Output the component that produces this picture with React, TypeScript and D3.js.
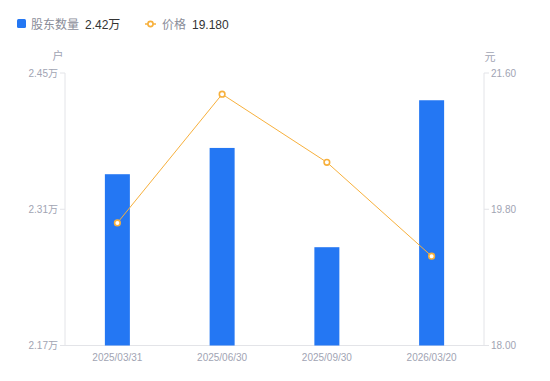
import React from "react";
import * as d3 from "d3";

const categories = ["2025/03/31", "2025/06/30", "2025/09/30", "2026/03/20"];
const holders = [2.346, 2.373, 2.271, 2.422];
const prices = [19.62, 21.32, 20.42, 19.18];
const leftTicks = [2.17, 2.31, 2.45];
const rightTicks = [18.0, 19.8, 21.6];

const W = 550, H = 381;
const x0 = 65, x1 = 484, yTop = 73, yBot = 345.5;
const font = "'Liberation Sans', 'Noto Sans CJK SC', sans-serif";

export default function App() {
  const x = d3.scaleBand<string>().domain(categories).range([x0, x1]);
  const yL = d3.scaleLinear().domain([2.17, 2.45]).range([yBot, yTop]);
  const yR = d3.scaleLinear().domain([18, 21.6]).range([yBot, yTop]);
  const bw = 25;
  const line = d3.line<number>()
    .x((_, i) => x(categories[i])! + x.bandwidth() / 2)
    .y((d) => yR(d));
  const axisColor = "#e3e4e8";
  const tickText = "#a1a4b3";
  const orange = "#f7b03c";
  return (
    <svg width={W} height={H} style={{ position: "absolute", left: 0, top: 0, fontFamily: font }}>
      {/* legend */}
      <rect x={17} y={19} width={9} height={9} rx={1.5} fill="#2477f3" />
      <text x={31} y={28.5} fontSize={12} fill="#8a8d99">股东数量</text>
      <text x={85} y={28.5} fontSize={12} fill="#333">2.42万</text>
      <line x1={145} x2={156} y1={24} y2={24} stroke={orange} strokeWidth={1.5} />
      <circle cx={150.5} cy={24} r={2.6} fill="#fff" stroke={orange} strokeWidth={1.6} />
      <text x={162} y={28.5} fontSize={12} fill="#8a8d99">价格</text>
      <text x={192} y={28.5} fontSize={12} fill="#333">19.180</text>
      {/* unit labels */}
      <text x={58} y={60} fontSize={11} fill={tickText} textAnchor="middle">户</text>
      <text x={490} y={61} fontSize={11} fill={tickText} textAnchor="middle">元</text>
      {/* axes */}
      <line x1={x0} x2={x0} y1={yTop} y2={yBot} stroke={axisColor} />
      <line x1={x1} x2={x1} y1={yTop} y2={yBot} stroke={axisColor} />
      <line x1={x0} x2={x1} y1={yBot} y2={yBot} stroke={axisColor} />
      {leftTicks.map((t) => (
        <g key={"l" + t}>
          <line x1={x0 - 5} x2={x0} y1={yL(t)} y2={yL(t)} stroke={axisColor} />
          <text x={x0 - 7} y={yL(t) + 3.5} fontSize={10} fill={tickText} textAnchor="end">
            {t.toFixed(2)}万
          </text>
        </g>
      ))}
      {rightTicks.map((t) => (
        <g key={"r" + t}>
          <line x1={x1} x2={x1 + 5} y1={yR(t)} y2={yR(t)} stroke={axisColor} />
          <text x={x1 + 7} y={yR(t) + 3.5} fontSize={10} fill={tickText}>
            {t.toFixed(2)}
          </text>
        </g>
      ))}
      {categories.map((c) => (
        <text key={c} x={x(c)! + x.bandwidth() / 2} y={361} fontSize={10} fill={tickText} textAnchor="middle">
          {c}
        </text>
      ))}
      {/* bars */}
      {holders.map((v, i) => (
        <rect
          key={i}
          x={x(categories[i])! + x.bandwidth() / 2 - bw / 2}
          y={yL(v)}
          width={bw}
          height={yBot - yL(v)}
          fill="#2477f3"
        />
      ))}
      {/* line */}
      <path d={line(prices)!} fill="none" stroke={orange} strokeWidth={1} />
      {prices.map((v, i) => (
        <circle
          key={i}
          cx={x(categories[i])! + x.bandwidth() / 2}
          cy={yR(v)}
          r={2.8}
          fill="#fff"
          stroke={orange}
          strokeWidth={1.6}
        />
      ))}
    </svg>
  );
}
